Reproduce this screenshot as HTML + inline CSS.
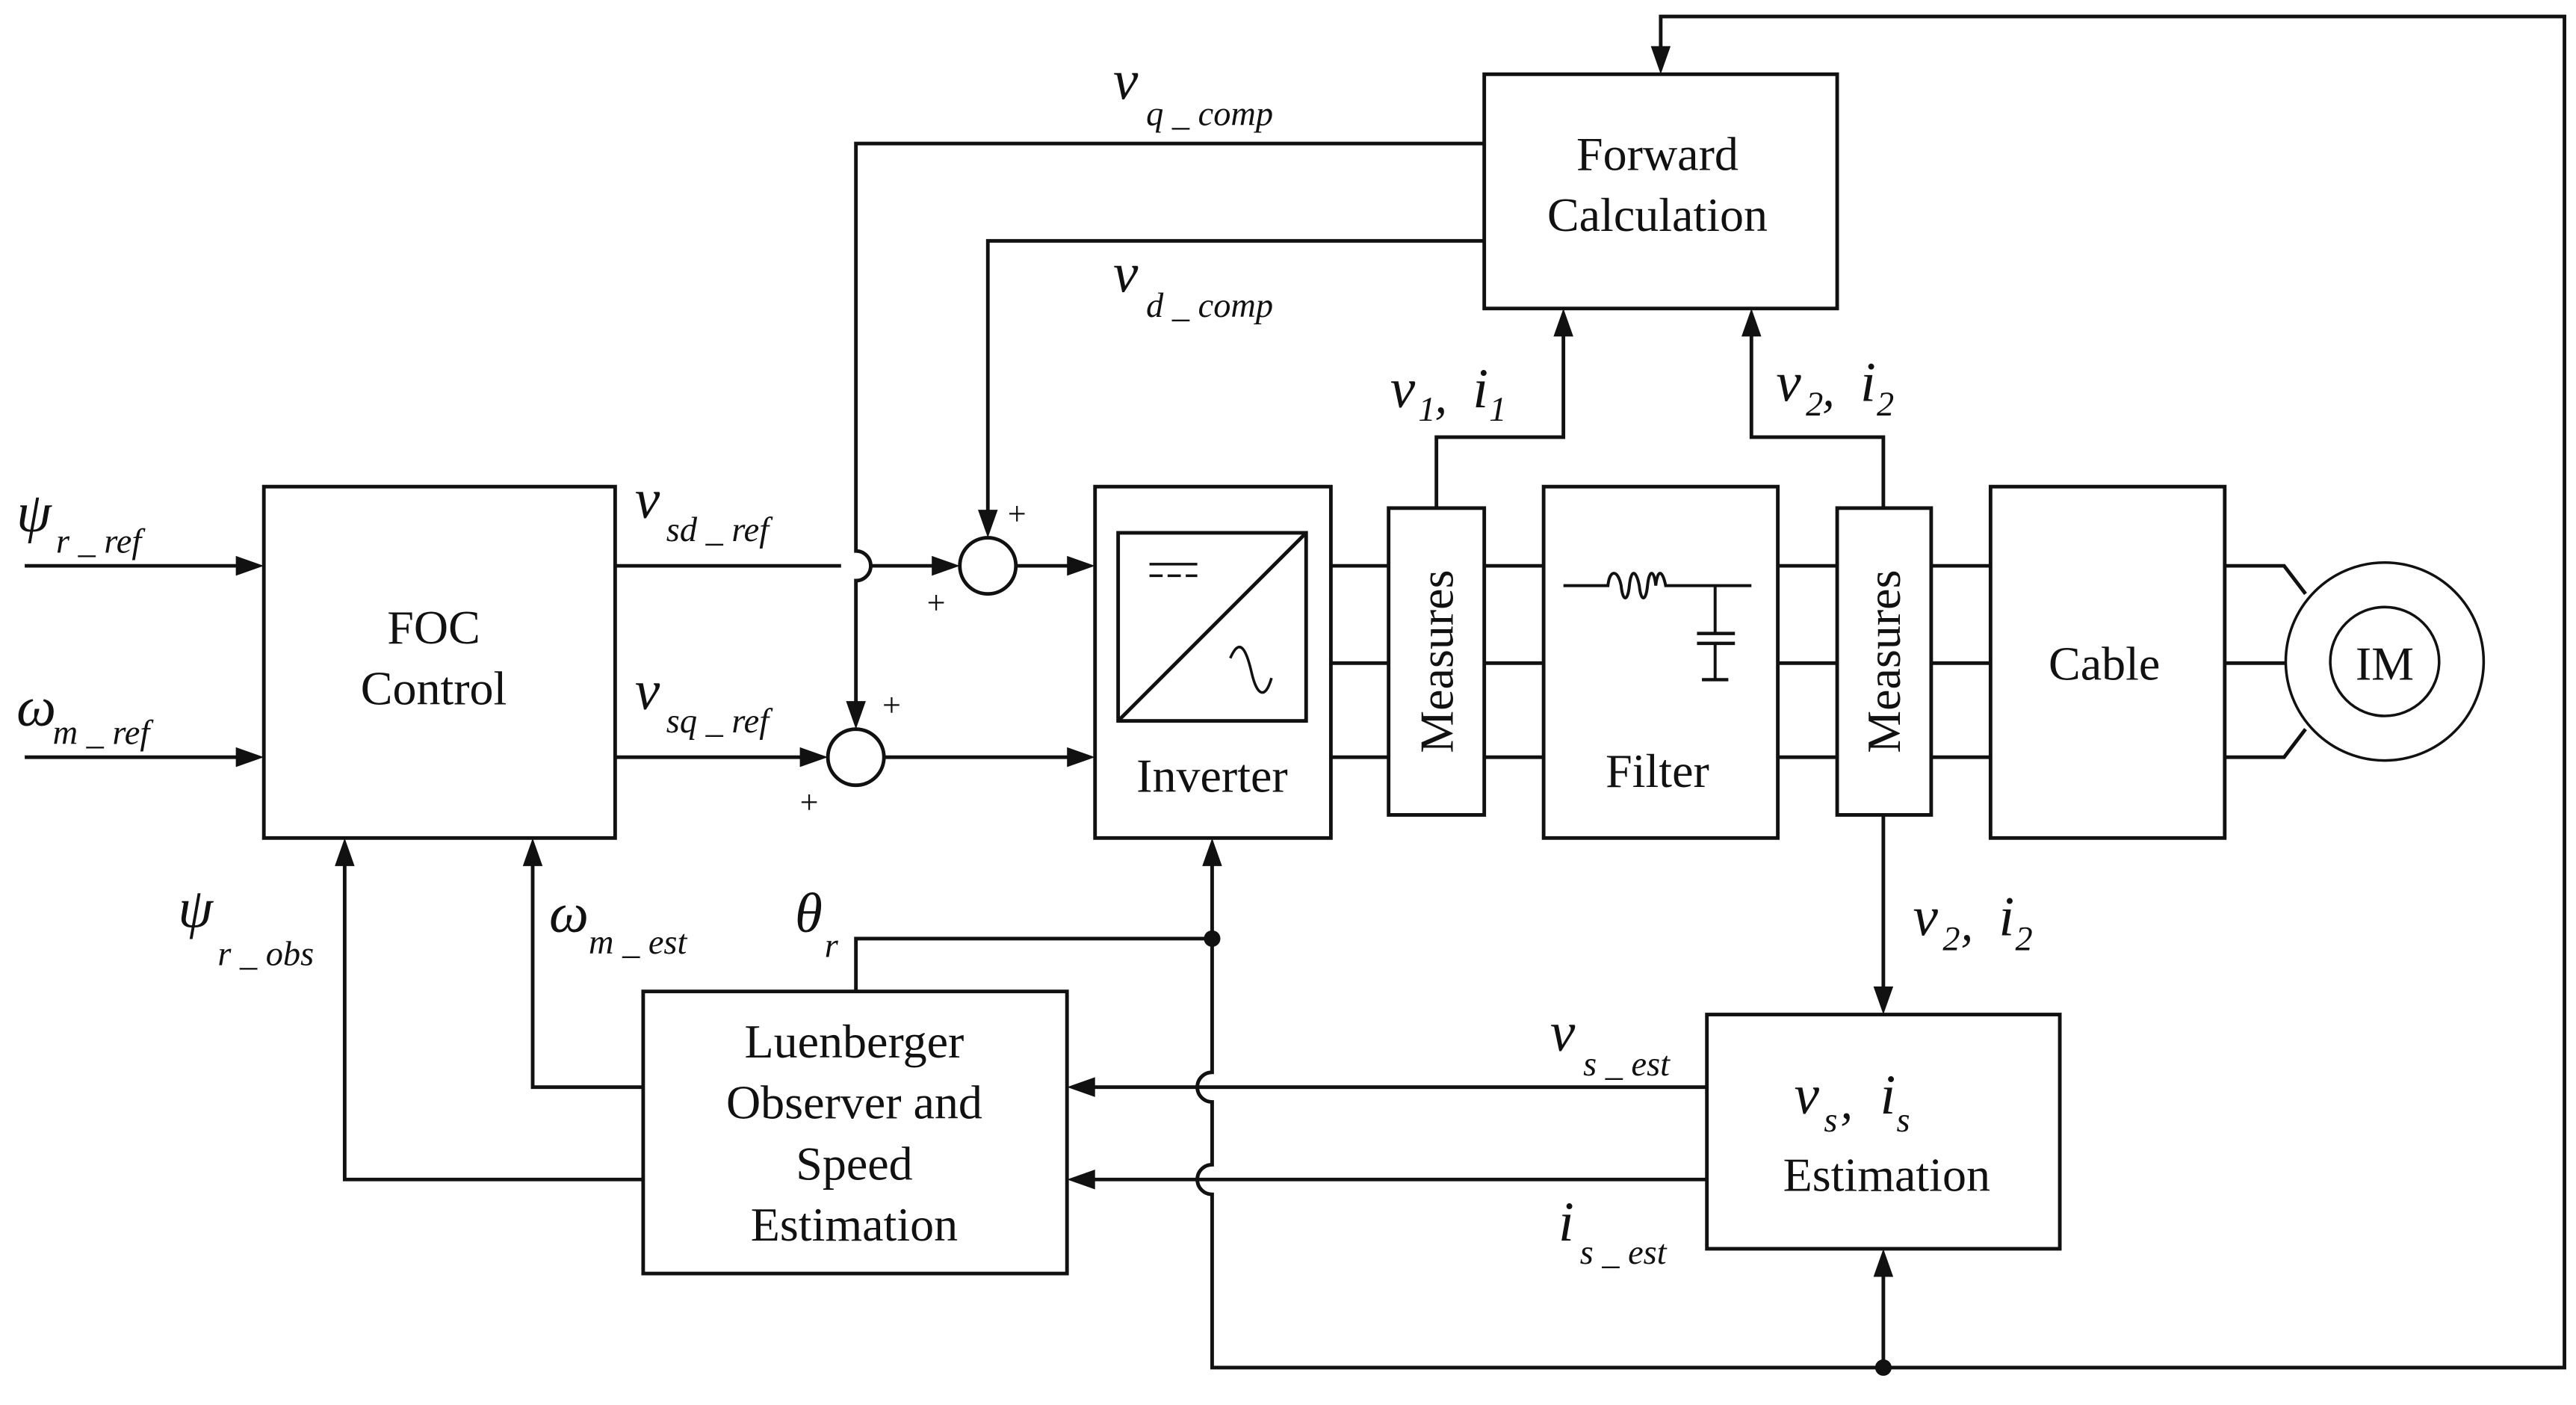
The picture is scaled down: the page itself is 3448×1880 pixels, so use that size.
<!DOCTYPE html>
<html><head><meta charset="utf-8"><style>
html,body{margin:0;padding:0;background:#fff;}
svg{display:block;}
text{font-family:"Liberation Serif",serif;fill:#111;}
.i{font-style:italic;}
</style></head><body>
<svg width="3448" height="1880" viewBox="0 0 1562 851.7" preserveAspectRatio="none" xmlns="http://www.w3.org/2000/svg">
<g fill="none" stroke="#111" stroke-width="2.2">
<!-- boxes -->
<rect x="160" y="295" width="213" height="213"/>
<rect x="664" y="295" width="143" height="213"/>
<rect x="678" y="323" width="114" height="114"/>
<line x1="678" y1="437" x2="792" y2="323"/>
<rect x="842" y="308" width="58" height="186"/>
<rect x="936" y="295" width="142" height="213"/>
<rect x="1114" y="308" width="57" height="186"/>
<rect x="1207" y="295" width="142" height="213"/>
<rect x="900" y="45" width="214" height="142"/>
<rect x="390" y="601" width="257" height="171"/>
<rect x="1035" y="615" width="214" height="142"/>
<circle cx="599" cy="343" r="17"/>
<circle cx="519" cy="459" r="17"/>
<circle cx="1446" cy="401" r="60" stroke-width="1.6"/>
<circle cx="1446" cy="401" r="33" stroke-width="1.6"/>
<!-- inverter symbols -->
<line x1="697" y1="342" x2="726" y2="342" stroke-width="1.6"/>
<line x1="697" y1="349" x2="726" y2="349" stroke-width="1.6" stroke-dasharray="8,3"/>
<path d="M746 399 C752 385 756 395 759 408 C762 421 767 425 771 411" stroke-width="1.6"/>
<!-- inputs -->
<line x1="15" y1="343" x2="145" y2="343"/>
<line x1="15" y1="459" x2="145" y2="459"/>
<!-- vsd -->
<path d="M373 343 H510"/>
<path d="M528 343 H567"/>
<path d="M616 343 H650"/>
<!-- vsq -->
<path d="M373 459 H488"/>
<path d="M536 459 H650"/>
<!-- vq_comp with jump -->
<path d="M900 87 H519 V334 A9 9 0 0 1 519 352 V427"/>
<!-- vd_comp -->
<path d="M900 146 H599 V312"/>
<!-- three phase lines -->
<path d="M807 343 H842 M900 343 H936 M1078 343 H1114 M1171 343 H1207 M1349 343 H1385 L1398 360"/>
<path d="M807 402 H842 M900 402 H936 M1078 402 H1114 M1171 402 H1207 M1349 402 H1386"/>
<path d="M807 459 H842 M900 459 H936 M1078 459 H1114 M1171 459 H1207 M1349 459 H1385 L1398 442"/>
<!-- filter -->
<path d="M948 355 H975 C976 345 981 345 983 355 C984 365 987 365 988 355 C989 345 992 345 994 355 C995 365 998 365 999 355 C1000 345 1003 345 1004 355 C1005 345 1008 345 1010 355 H1062" stroke-width="1.8"/>
<line x1="1040" y1="355" x2="1040" y2="384" stroke-width="1.8"/>
<line x1="1029" y1="384" x2="1052" y2="384" stroke-width="2"/>
<line x1="1029" y1="390" x2="1052" y2="390" stroke-width="2"/>
<line x1="1040" y1="390" x2="1040" y2="412" stroke-width="1.8"/>
<line x1="1032" y1="412" x2="1048" y2="412" stroke-width="2"/>
<!-- v1 i1 / v2 i2 to forward -->
<path d="M871 308 V265 H948 V203"/>
<path d="M1142 308 V265 H1062 V203"/>
<!-- measures2 to estimation -->
<path d="M1142 494 V600"/>
<!-- top feedback loop -->
<path d="M1007 29 V10 H1555 V829 H735 V724 A9 9 0 0 1 735 706 V668 A9 9 0 0 1 735 650 V524"/>
<path d="M1142 829 V773"/>
<!-- theta -->
<path d="M519 601 V569 H735"/>
<!-- vs_est / is_est -->
<path d="M1035 659 H663"/>
<path d="M1035 715 H663"/>
<!-- omega / psi feedback -->
<path d="M390 659 H323 V524"/>
<path d="M390 715 H209 V524"/>
</g>
<g fill="#111">
<polygon points="160,343 143,337 143,349"/>
<polygon points="160,459 143,453 143,465"/>
<polygon points="582,343 565,337 565,349"/>
<polygon points="664,343 647,337 647,349"/>
<polygon points="502,459 485,453 485,465"/>
<polygon points="664,459 647,453 647,465"/>
<polygon points="519,442 513,425 525,425"/>
<polygon points="599,326 593,309 605,309"/>
<polygon points="948,187 942,204 954,204"/>
<polygon points="1062,187 1056,204 1068,204"/>
<polygon points="1007,45 1001,28 1013,28"/>
<polygon points="1142,615 1136,598 1148,598"/>
<polygon points="1142,757 1136,774 1148,774"/>
<polygon points="735,508 729,525 741,525"/>
<polygon points="209,508 203,525 215,525"/>
<polygon points="323,508 317,525 329,525"/>
<polygon points="647,659 664,653 664,665"/>
<polygon points="647,715 664,709 664,721"/>
<circle cx="735" cy="569" r="5"/>
<circle cx="1142" cy="829" r="5"/>
</g>
<!-- block text -->
<g font-size="29" text-anchor="middle">
<text x="263" y="390">FOC</text>
<text x="263" y="427">Control</text>
<text x="735" y="480">Inverter</text>
<text x="1005" y="477">Filter</text>
<text x="1276" y="412">Cable</text>
<text x="1446" y="412">IM</text>
<text x="1005" y="103">Forward</text>
<text x="1005" y="140">Calculation</text>
<text x="518" y="641">Luenberger</text>
<text x="518" y="678">Observer and</text>
<text x="518" y="715">Speed</text>
<text x="518" y="752">Estimation</text>
<text x="1144" y="722">Estimation</text>
<text transform="translate(881,401) rotate(-90)">Measures</text>
<text transform="translate(1152,401) rotate(-90)">Measures</text>
</g>
<!-- plus signs -->
<g font-size="20" font-family="Liberation Sans">
<text x="611" y="318">+</text>
<text x="562" y="372">+</text>
<text x="535" y="434">+</text>
<text x="485" y="493">+</text>
</g>
<!-- math labels -->
<g class="i">
<text x="10" y="322" font-size="34">ψ</text><text x="34" y="335" font-size="21">r _ ref</text>
<text x="10" y="440" font-size="34">ω</text><text x="32" y="451" font-size="21">m _ ref</text>
<text x="385" y="314" font-size="34">v</text><text x="404" y="328" font-size="21">sd _ ref</text>
<text x="385" y="430" font-size="34">v</text><text x="404" y="444" font-size="21">sq _ ref</text>
<text x="675" y="60" font-size="34">v</text><text x="695" y="76" font-size="21">q _ comp</text>
<text x="675" y="177" font-size="34">v</text><text x="695" y="192" font-size="21">d _ comp</text>
<text x="843" y="247" font-size="34">v</text><text x="860" y="255" font-size="21">1</text><text x="870" y="250" font-size="30">, </text><text x="893" y="247" font-size="34">i</text><text x="903" y="255" font-size="21">1</text>
<text x="1077" y="243" font-size="34">v</text><text x="1095" y="252" font-size="21">2</text><text x="1105" y="246" font-size="30">, </text><text x="1128" y="243" font-size="34">i</text><text x="1138" y="252" font-size="21">2</text>
<text x="1160" y="567" font-size="34">v</text><text x="1178" y="576" font-size="21">2</text><text x="1189" y="570" font-size="30">, </text><text x="1212" y="567" font-size="34">i</text><text x="1222" y="576" font-size="21">2</text>
<text x="1088" y="675" font-size="34">v</text><text x="1106" y="686" font-size="21">s</text><text x="1116" y="678" font-size="30">, </text><text x="1140" y="675" font-size="34">i</text><text x="1150" y="686" font-size="21">s</text>
<text x="940" y="637" font-size="34">v</text><text x="960" y="652" font-size="21">s _ est</text>
<text x="945" y="752" font-size="34">i</text><text x="958" y="766" font-size="21">s _ est</text>
<text x="482" y="565" font-size="34">θ</text><text x="500" y="580" font-size="21">r</text>
<text x="333" y="565" font-size="34">ω</text><text x="357" y="578" font-size="21">m _ est</text>
<text x="108" y="562" font-size="34">ψ</text><text x="132" y="585" font-size="21">r _ obs</text>
</g>
</svg>
</body></html>
